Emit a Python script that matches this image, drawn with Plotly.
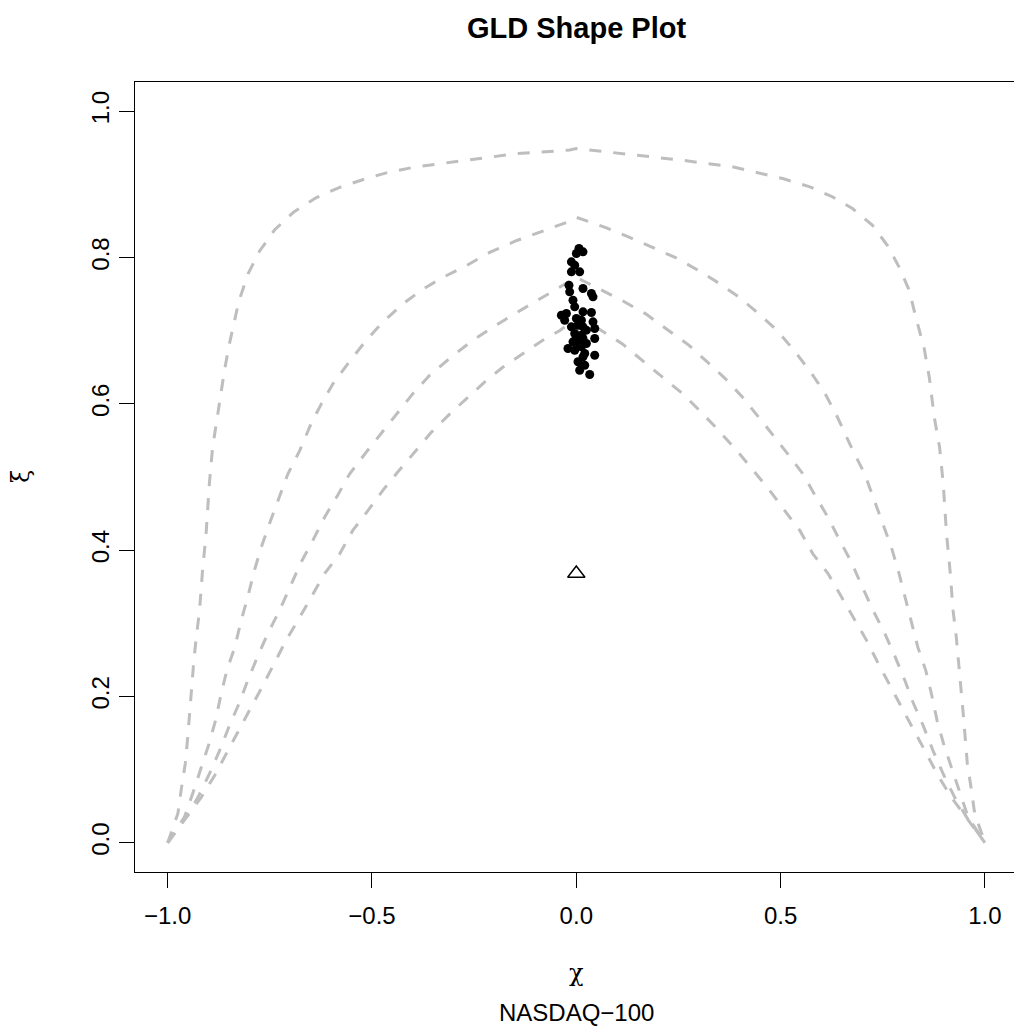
import plotly.graph_objects as go

# ---- boundary curves (chi, xi) ----
curveA_chi = [-1.000, -0.975, -0.966, -0.957, -0.951, -0.947, -0.941, -0.936, -0.930, -0.922, -0.915, -0.906,
              -0.898, -0.890, -0.881, -0.861, -0.849, -0.826, -0.803, -0.775, -0.738, -0.692, -0.636, -0.579,
              -0.514, -0.457, -0.392, -0.335, -0.269, -0.212, -0.147, -0.090, -0.016, 0.000,
              0.137, 0.260, 0.382, 0.505, 0.570, 0.627, 0.676, 0.725, 0.762, 0.790, 0.815, 0.831, 0.851,
              0.864, 0.876, 0.889, 0.898, 0.906, 0.915, 0.922, 0.930, 0.936, 0.941, 0.947, 0.951, 0.957,
              0.966, 0.975, 1.000]
curveA_xi = [0.000, 0.040, 0.076, 0.108, 0.144, 0.176, 0.213, 0.249, 0.281, 0.318, 0.370, 0.423,
             0.491, 0.541, 0.573, 0.646, 0.682, 0.740, 0.778, 0.809, 0.838, 0.862, 0.882, 0.896,
             0.908, 0.917, 0.924, 0.928, 0.933, 0.937, 0.942, 0.944, 0.947, 0.949,
             0.941, 0.933, 0.924, 0.908, 0.897, 0.883, 0.867, 0.844, 0.816, 0.787, 0.755, 0.718, 0.677,
             0.636, 0.582, 0.541, 0.491, 0.423, 0.370, 0.318, 0.281, 0.249, 0.213, 0.176, 0.144, 0.108,
             0.076, 0.040, 0.000]

curveB_chi = [-1.000, -0.959, -0.939, -0.918, -0.899, -0.883, -0.869, -0.855, -0.836, -0.820, -0.804, -0.788,
              -0.771, -0.751, -0.730, -0.706, -0.677, -0.649, -0.624, -0.596, -0.559, -0.514, -0.473, -0.424,
              -0.375, -0.326, -0.269, -0.212, -0.147, -0.090, -0.024, 0.000,
              0.072, 0.129, 0.186, 0.243, 0.297, 0.349, 0.398, 0.447, 0.492, 0.533, 0.574, 0.607, 0.639,
              0.677, 0.706, 0.730, 0.751, 0.771, 0.788, 0.804, 0.820, 0.836, 0.855, 0.869, 0.883, 0.899,
              0.918, 0.939, 0.959, 1.000]
curveB_xi = [0.000, 0.035, 0.067, 0.103, 0.135, 0.167, 0.204, 0.236, 0.267, 0.304, 0.336, 0.372,
             0.404, 0.436, 0.468, 0.504, 0.536, 0.573, 0.600, 0.627, 0.655, 0.687, 0.712, 0.737,
             0.757, 0.773, 0.789, 0.807, 0.823, 0.835, 0.848, 0.855,
             0.841, 0.828, 0.814, 0.800, 0.783, 0.765, 0.746, 0.723, 0.700, 0.673, 0.643, 0.616, 0.582,
             0.536, 0.504, 0.468, 0.436, 0.404, 0.372, 0.336, 0.304, 0.267, 0.236, 0.204, 0.167, 0.135,
             0.103, 0.067, 0.035, 0.000]

curveC_chi = [-1.000, -0.955, -0.926, -0.898, -0.873, -0.849, -0.824, -0.804, -0.779, -0.755, -0.726, -0.698,
              -0.673, -0.645, -0.616, -0.584, -0.555, -0.514, -0.469, -0.441, -0.400, -0.359, -0.306, -0.253,
              -0.204, -0.151, -0.102, -0.049, 0.000,
              0.113, 0.170, 0.219, 0.276, 0.317, 0.362, 0.407, 0.447, 0.469, 0.514, 0.555, 0.584, 0.616,
              0.645, 0.673, 0.698, 0.726, 0.755, 0.779, 0.804, 0.824, 0.849, 0.873, 0.898, 0.926, 0.955, 1.000]
curveC_xi = [0.000, 0.035, 0.062, 0.094, 0.126, 0.160, 0.192, 0.222, 0.256, 0.286, 0.318, 0.352,
             0.384, 0.413, 0.445, 0.475, 0.504, 0.534, 0.566, 0.586, 0.614, 0.639, 0.664, 0.687,
             0.705, 0.723, 0.739, 0.757, 0.773,
             0.741, 0.723, 0.703, 0.680, 0.659, 0.636, 0.609, 0.582, 0.566, 0.534, 0.504, 0.475, 0.445,
             0.413, 0.384, 0.352, 0.318, 0.286, 0.256, 0.222, 0.192, 0.160, 0.126, 0.094, 0.062, 0.035, 0.000]

curveD_chi = [-1.000, -0.951, -0.918, -0.885, -0.855, -0.824, -0.796, -0.767, -0.739, -0.710, -0.677, -0.645,
              -0.616, -0.579, -0.547, -0.510, -0.473, -0.441, -0.396, -0.355, -0.310, -0.269, -0.224, -0.180,
              -0.131, -0.082, -0.041, 0.000,
              0.048, 0.113, 0.162, 0.211, 0.260, 0.305, 0.341, 0.396, 0.441, 0.473, 0.510, 0.547, 0.579,
              0.616, 0.645, 0.677, 0.710, 0.739, 0.767, 0.796, 0.824, 0.855, 0.885, 0.918, 0.951, 1.000]
curveD_xi = [0.000, 0.037, 0.062, 0.092, 0.124, 0.156, 0.185, 0.215, 0.245, 0.277, 0.308, 0.340,
             0.368, 0.395, 0.427, 0.454, 0.482, 0.504, 0.534, 0.561, 0.586, 0.607, 0.630, 0.650,
             0.668, 0.687, 0.700, 0.717,
             0.705, 0.682, 0.659, 0.636, 0.614, 0.589, 0.568, 0.534, 0.504, 0.482, 0.454, 0.427, 0.395,
             0.368, 0.340, 0.308, 0.277, 0.245, 0.215, 0.185, 0.156, 0.124, 0.092, 0.062, 0.037, 0.000]

# ---- fitted shape parameters (rolling estimates) ----
obs_chi = [0.0066, 0.0164, 0.0002, -0.0120, -0.0039, -0.0120, 0.0083, -0.0179, 0.0164, -0.0162,
           0.0370, 0.0409, -0.0081, -0.0039, -0.0365, -0.0242, 0.0164, 0.0370, 0.0002, 0.0125,
           -0.0284, 0.0409, -0.0120, 0.0164, 0.0451, -0.0039, 0.0125, 0.0002, 0.0164, 0.0451,
           -0.0203, -0.0039, 0.0125, 0.0164, 0.0451, 0.0042, 0.0206, 0.0083, 0.0328,
           0.0042, 0.0247, -0.0081, 0.0247, 0.0083, 0.0206]
obs_xi = [0.8124, 0.8078, 0.8055, 0.7941, 0.7895, 0.7805, 0.7805, 0.7622, 0.7577, 0.7531,
          0.7508, 0.7463, 0.7417, 0.7326, 0.7212, 0.7235, 0.7258, 0.7249, 0.7167, 0.7143,
          0.7143, 0.7121, 0.7053, 0.7053, 0.7030, 0.6962, 0.6938, 0.6893, 0.6893, 0.6893,
          0.6756, 0.6733, 0.6780, 0.6643, 0.6665, 0.6575, 0.6528, 0.6460, 0.6401,
          0.7075, 0.7007, 0.6848, 0.6825, 0.6802, 0.6688]

# ---- overall (full sample) estimate ----
full_chi = [0.0]
full_xi = [0.368]

x_ticks = [-1.0, -0.5, 0.0, 0.5, 1.0]
y_ticks = [0.0, 0.2, 0.4, 0.6, 0.8, 1.0]

FONT = "Liberation Sans, Arial, Helvetica, sans-serif"
GREEK = "DejaVu Serif, DejaVu Sans, serif"
GREY = "#BEBEBE"

fig = go.Figure()
for cx, cy in [(curveA_chi, curveA_xi), (curveB_chi, curveB_xi),
               (curveC_chi, curveC_xi), (curveD_chi, curveD_xi)]:
    fig.add_trace(go.Scatter(x=cx, y=cy, mode="lines",
                             line=dict(color=GREY, width=3, dash="12px,12px"),
                             hoverinfo="skip", showlegend=False))

fig.add_trace(go.Scatter(x=obs_chi, y=obs_xi, mode="markers",
                         marker=dict(color="black", size=9, line=dict(width=0)),
                         showlegend=False))
fig.add_trace(go.Scatter(x=full_chi, y=full_xi, mode="markers",
                         marker=dict(symbol="triangle-up-open", color="black", size=15,
                                     line=dict(width=1.5, color="black")),
                         showlegend=False))

axis_common = dict(showgrid=False, zeroline=False, showline=True, linecolor="black",
                   linewidth=1.3, ticks="outside", ticklen=15, tickwidth=1.3,
                   tickcolor="black", tickformat=".1f",
                   tickfont=dict(family=FONT, size=24, color="black"))

fig.update_xaxes(range=[-1.08, 1.0712], tickvals=x_ticks, mirror=True,
                 ticklabelstandoff=7, **axis_common)
fig.update_yaxes(range=[-0.04, 1.04], tickvals=y_ticks, tickangle=-90, mirror=False, **axis_common)

fig.update_layout(
    width=1014, height=1027,
    margin=dict(l=135, r=0, t=82, b=155),
    plot_bgcolor="white", paper_bgcolor="white",
    font=dict(family=FONT, color="black"),
    annotations=[
        dict(text="<b>GLD Shape Plot</b>", xref="x", x=0, yref="paper", y=1,
             yanchor="middle", yshift=54, showarrow=False,
             font=dict(family=FONT, size=29, color="black")),
        dict(text="χ", xref="x", x=0, yref="paper", y=0, yanchor="middle",
             yshift=-101, showarrow=False, font=dict(family=GREEK, size=24, color="black")),
        dict(text="NASDAQ−100", xref="x", x=0, yref="paper", y=0, yanchor="middle",
             yshift=-140, showarrow=False, font=dict(family=FONT, size=24, color="black")),
        dict(text="ξ", xref="paper", x=0, xanchor="center", xshift=-114,
             yref="paper", y=0.5, yanchor="middle", textangle=-90, showarrow=False,
             font=dict(family=GREEK, size=24, color="black")),
    ],
)

fig.write_html("out.html")
